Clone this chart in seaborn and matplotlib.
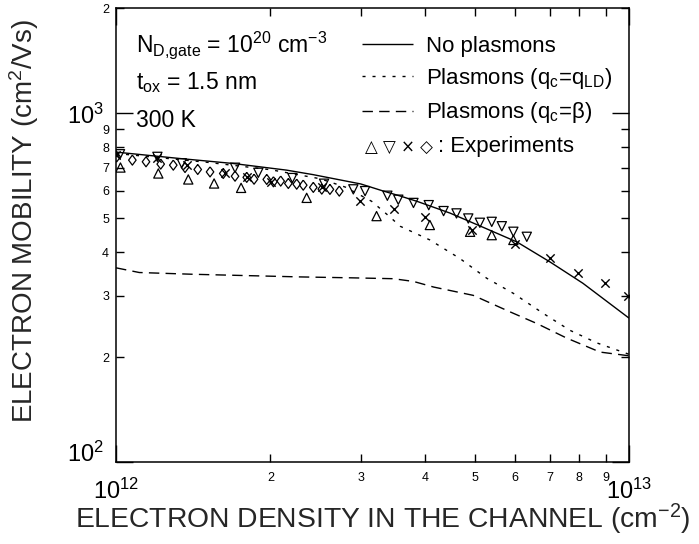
import numpy as np
import matplotlib
matplotlib.use("Agg")
import matplotlib.pyplot as plt
import matplotlib.ticker as mticker
import seaborn as sns

# ---------------- data (density in 1e12 cm^-2, mobility in cm^2/Vs) ----------------
no_plasmon_n = [1.0, 1.33, 1.69, 2.15, 2.42, 3.0, 3.31, 3.58, 3.86, 4.48, 5.19, 6.05, 7.02, 8.13, 10.0]
no_plasmon_mu = [775, 743, 719, 688, 668, 628, 600, 580, 560, 518, 472, 428, 375, 326, 259]

qld_n = [1.0, 1.5, 2.0, 2.5, 2.8, 3.15, 3.42, 3.58, 4.09, 4.68, 5.28, 5.95, 6.81, 7.67, 8.65, 10.0]
qld_mu = [768, 725, 690, 650, 615, 560, 505, 475, 434, 384, 337, 305, 267, 239, 220, 204]

beta_n = [1.0, 1.11, 1.41, 2.28, 2.86, 3.47, 3.8, 4.16, 4.97, 5.86, 6.61, 7.56, 8.78, 10.0]
beta_mu = [361, 350, 346, 340, 338, 336, 330, 318, 301, 270, 250, 227, 207, 202]

tri_up_n = [1.02, 1.209, 1.383, 1.553, 1.753, 2.353, 3.22, 4.09, 4.90, 5.40, 5.95]
tri_up_mu = [700, 673, 647, 630, 612, 573, 508, 479, 458, 448, 434]

tri_down_n = [1.018, 1.204, 1.343, 1.706, 1.894, 2.207, 2.544, 2.901, 3.058, 3.38, 3.55,
              3.80, 4.07, 4.35, 4.61, 4.86, 5.12, 5.40, 5.65, 5.95, 6.32]
tri_down_mu = [764, 751, 720, 699, 676, 653, 629, 606, 599, 581, 566,
               554, 546, 525, 517, 500, 486, 489, 475, 458, 443]

cross_n = [1.00, 1.202, 1.375, 1.631, 1.798, 2.003, 2.518, 2.99, 3.48, 4.00, 4.94,
           5.99, 7.00, 7.96, 8.98, 9.97]
cross_mu = [760, 745, 711, 676, 658, 637, 616, 561, 532, 504, 463,
            422, 386, 349, 326, 300]

diamond_n = [1.003, 1.076, 1.144, 1.222, 1.293, 1.363, 1.443, 1.525, 1.618, 1.706, 1.798,
             1.858, 1.967, 2.027, 2.094, 2.167, 2.25, 2.317, 2.424, 2.518, 2.612, 2.724]
diamond_mu = [751, 735, 727, 716, 711, 700, 691, 680, 673, 661, 656,
              648, 647, 637, 640, 630, 627, 623, 614, 607, 606, 599]

curve_labels = ["No plasmons",
                r"Plasmons (q$_{\mathrm{c}}$=q$_{\mathrm{LD}}$)",
                r"Plasmons (q$_{\mathrm{c}}$=β)"]
annotations = [r"N$_{\mathrm{D{,}gate}}$ = 10$^{20}$ cm$^{-3}$",
               r"t$_{\mathrm{ox}}$ = 1.5 nm",
               "300 K"]
DENS_UNIT = 1e12

# ---------------- style ----------------
sns.set_style("ticks")
plt.rcParams.update({
    "font.family": ["Liberation Sans", "DejaVu Sans"],
    "mathtext.fontset": "custom",
    "mathtext.rm": "Liberation Sans",
    "mathtext.it": "Liberation Sans",
    "mathtext.bf": "Liberation Sans:bold",
    "mathtext.default": "regular",
    "axes.edgecolor": "black",
    "axes.linewidth": 1.1,
    "text.color": "black",
    "xtick.color": "black",
    "ytick.color": "black",
})

fig = plt.figure(figsize=(6.99, 5.44), dpi=100)
ax = fig.add_axes([0.1660, 0.1502, 0.7339, 0.8342])
ax.set_xscale("log")
ax.set_yscale("log")

solid = (0, ())
dotted = (0, (2.2, 5.0))
dashed = (0, (7.5, 4.5))

for n, mu, ls, lab in [(no_plasmon_n, no_plasmon_mu, solid, curve_labels[0]),
                       (qld_n, qld_mu, dotted, curve_labels[1]),
                       (beta_n, beta_mu, dashed, curve_labels[2])]:
    sns.lineplot(x=np.array(n) * DENS_UNIT, y=mu, ax=ax, color="black",
                 linewidth=1.0, linestyle=ls, label=lab, sort=False, errorbar=None)

diamond_marker = [(0, 1), (0.75, 0), (0, -1), (-0.75, 0), (0, 1)]
sns.scatterplot(x=np.array(tri_up_n) * DENS_UNIT, y=tri_up_mu, ax=ax, marker="^",
                s=44, facecolor="none", edgecolor="black", color="black", linewidth=0.9)
sns.scatterplot(x=np.array(tri_down_n) * DENS_UNIT, y=tri_down_mu, ax=ax, marker="v",
                s=44, facecolor="none", edgecolor="black", color="black", linewidth=0.9)
sns.scatterplot(x=np.array(cross_n) * DENS_UNIT, y=cross_mu, ax=ax, marker="x",
                s=36, color="black", linewidth=1.0)
sns.scatterplot(x=np.array(diamond_n) * DENS_UNIT, y=diamond_mu, ax=ax, marker=diamond_marker,
                s=52, facecolor="none", edgecolor="black", color="black", linewidth=0.9)

ax.set_xlim(1e12, 1e13)
ax.set_ylim(100, 2000)

# ticks
ax.xaxis.set_major_locator(mticker.FixedLocator([1e12, 1e13]))
ax.xaxis.set_minor_locator(mticker.LogLocator(base=10, subs=np.arange(2, 10), numticks=20))
ax.yaxis.set_major_locator(mticker.FixedLocator([1e2, 1e3]))
ax.yaxis.set_minor_locator(mticker.LogLocator(base=10, subs=np.arange(2, 10), numticks=20))

major_fmt = mticker.FuncFormatter(lambda v, p: r"10$^{%d}$" % int(round(np.log10(v))))
minor_fmt = mticker.FuncFormatter(lambda v, p: "%d" % int(round(v / 10 ** np.floor(np.log10(v) + 1e-9))))
for axis in (ax.xaxis, ax.yaxis):
    axis.set_major_formatter(major_fmt)
    axis.set_minor_formatter(minor_fmt)

ax.tick_params(which="both", direction="in", top=True, right=True, width=1.0)
ax.tick_params(which="major", length=12, labelsize=17)
ax.tick_params(which="minor", length=5.5, labelsize=9)
ax.tick_params(axis="x", which="minor", pad=7)
ax.tick_params(axis="x", which="major", pad=12)
ax.tick_params(axis="y", which="major", pad=9)
ax.tick_params(axis="y", which="minor", pad=5)

# the lowest y label sits on the baseline of the axis, as in the reference
ymaj = ax.yaxis.get_major_ticks()
ymaj[0].label1.set_verticalalignment("baseline")

ax.set_xlabel(r"ELECTRON DENSITY IN THE CHANNEL (cm$^{-2}$)", fontsize=20.3)
ax.set_ylabel(r"ELECTRON MOBILITY (cm$^{2}$/Vs)", fontsize=20)
ax.xaxis.set_label_coords(0.52, -0.088)
ax.yaxis.set_label_coords(-0.146, 0.532)

# annotations
for txt, yy in zip(annotations, [0.9035, 0.822, 0.7395]):
    ax.text(0.039, yy, txt, transform=ax.transAxes, fontsize=16.5, va="baseline", ha="left")

# legend
handles, labels = ax.get_legend_handles_labels()
ax.legend(handles, labels, loc="upper left", bbox_to_anchor=(0.4786, 0.94), frameon=False,
          fontsize=16, handlelength=2.3, handletextpad=0.6, labelspacing=0.42,
          borderaxespad=0, borderpad=0)
ax.text(0.4854, 0.6845, "△ ▽ × ◇", transform=ax.transAxes, fontsize=12,
        family=["DejaVu Sans"], va="baseline", ha="left")
ax.text(0.628, 0.6845, ": Experiments", transform=ax.transAxes, fontsize=16,
        va="baseline", ha="left")

fig.savefig("out.png", dpi=100)
